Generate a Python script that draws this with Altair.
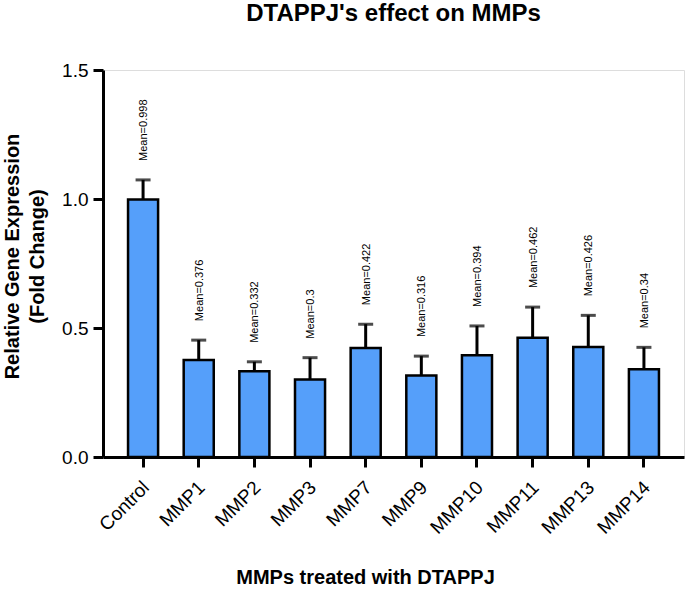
import altair as alt
import pandas as pd

categories = ["Control", "MMP1", "MMP2", "MMP3", "MMP7", "MMP9", "MMP10", "MMP11", "MMP13", "MMP14"]
means = [0.998, 0.376, 0.332, 0.3, 0.422, 0.316, 0.394, 0.462, 0.426, 0.34]
errors = [0.076, 0.077, 0.037, 0.085, 0.093, 0.075, 0.114, 0.119, 0.123, 0.085]
labels = ["Mean=0.998", "Mean=0.376", "Mean=0.332", "Mean=0.3", "Mean=0.422",
          "Mean=0.316", "Mean=0.394", "Mean=0.462", "Mean=0.426", "Mean=0.34"]

df = pd.DataFrame({"cat": categories, "mean": means, "err": errors, "label": labels})
df["top"] = df["mean"] + df["err"]

FONT = "Liberation Sans"

x = alt.X("cat:N", sort=categories,
          scale=alt.Scale(paddingInner=0.46, paddingOuter=0.45),
          axis=alt.Axis(title="MMPs treated with DTAPPJ", labelAngle=-45,
                        labelFontSize=19, labelColor="black", labelFont=FONT,
                        labelAlign="right", labelBaseline="middle", labelPadding=17,
                        labelOffset=3,
                        tickSize=10, tickWidth=3, tickColor="black",
                        domainWidth=3, domainColor="black",
                        titleFontSize=20, titleFont=FONT, titleFontWeight="bold",
                        titleColor="black", titleX=262, titleY=126,
                        titleAlign="center", titleBaseline="alphabetic"))

yscale = alt.Scale(domain=[0, 1.5], nice=False)

bars = alt.Chart(df).mark_bar(fill="#559FFA", stroke="black", strokeWidth=2.5).encode(
    x=x,
    y=alt.Y("mean:Q", scale=yscale,
            axis=alt.Axis(title=["Relative Gene Expression", "(Fold Change)"],
                          values=[0, 0.5, 1.0, 1.5], format=".1f",
                          labelFontSize=19, labelColor="black", labelFont=FONT,
                          labelPadding=5,
                          tickSize=10, tickWidth=3, tickColor="black",
                          domainWidth=3, domainColor="black", grid=False,
                          titleFontSize=20, titleFont=FONT, titleFontWeight="bold",
                          titleColor="black", titleLineHeight=25,
                          titleX=-81, titleY=186, titleAngle=270,
                          titleAlign="center", titleBaseline="bottom")),
)

rule = alt.Chart(df).mark_rule(color="black", strokeWidth=3).encode(
    x=alt.X("cat:N", sort=categories),
    y=alt.Y("mean:Q", scale=yscale),
    y2="top:Q",
)

cap = alt.Chart(df).mark_tick(color="black", orient="horizontal", size=15, thickness=3).encode(
    x=alt.X("cat:N", sort=categories),
    y=alt.Y("top:Q", scale=yscale),
)

text = alt.Chart(df).mark_text(angle=270, align="left", baseline="middle",
                               fontSize=11, font=FONT, color="black",
                               yOffset=-19, xOffset=1).encode(
    x=alt.X("cat:N", sort=categories),
    y=alt.Y("top:Q", scale=yscale),
    text="label:N",
)

chart = alt.layer(bars, rule, cap, text).properties(
    width=581, height=387,
    title=alt.TitleParams("DTAPPJ's effect on MMPs", fontSize=24, font=FONT,
                          fontWeight="bold", color="black", anchor="middle", offset=35),
    autosize=alt.AutoSizeParams(type="none"),
    padding={"left": 103, "top": 70, "right": 5, "bottom": 132},
).configure_view(stroke="black", strokeWidth=2.5).configure(background="white")

chart.save("out.html", embed_options={"renderer": "svg", "actions": False})
